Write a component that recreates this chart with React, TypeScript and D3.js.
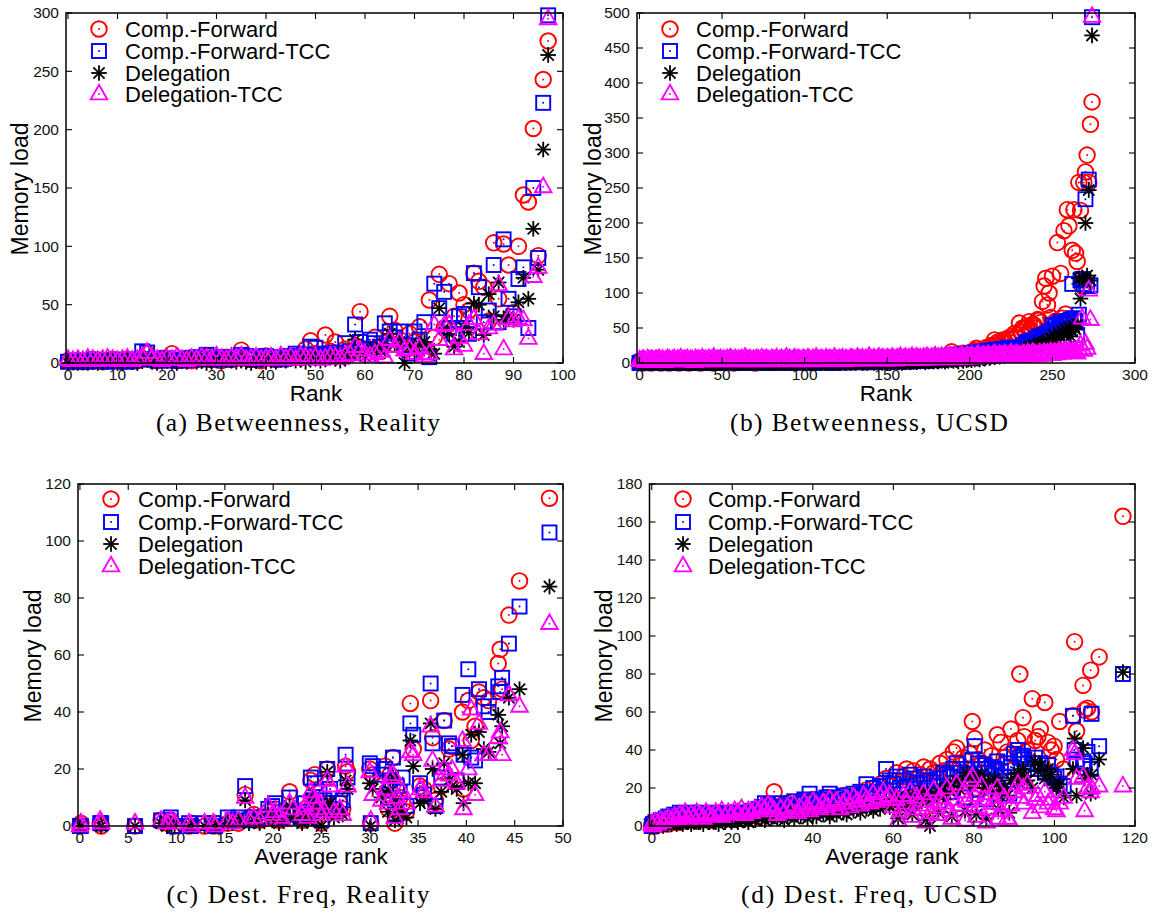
import React from 'react';
import * as d3 from 'd3';

// ---------- Series ----------
const SERIES_NAMES = ['Comp.-Forward', 'Comp.-Forward-TCC', 'Delegation', 'Delegation-TCC'];
const SERIES_COLORS = ['#ff0000', '#0000ff', '#000000', '#ff00ff'];
const SERIES_SHAPES = ['circle', 'square', 'star', 'triangle'];

// ---------- (a) Betweenness, Reality : x = rank (array index) ----------
const A_CF = [2,1,2,1,2,3,2,1,2,3, 2,1,3,2,2,4,8,3,2,4, 3,8,2,3,4,2,3,5,6,3, 4,2,5,3,4,11,4,3,5,2, 6,4,3,5,4,6,5,7,12,19, 8,6,24,10,18,7,12,9,
  15,44,12,10,22,14,17,40,28,20, 12,25,18,31,10,54,22,76,30,68, 40,60,50,45,77,70,65,36,103,55, 102,84,43,100,144,138,201,92,243,276];
const A_CFT = [1,2,1,2,1,3,2,2,1,2, 3,2,1,2,3,10,9,3,2,3, 4,2,3,2,4,3,5,4,7,3, 4,5,3,4,5,7,6,4,3,5, 6,4,5,3,4,6,8,5,7,14, 13,6,8,7,9,6,17,10,
  33,18,12,20,17,14,34,27,22,27, 15,8,27,20,35,5,68,47,61,30, 25,40,42,25,77,65,35,45,84,35, 106,55,40,72,82,30,150,90,223,298];
const A_D = [0,1,0,1,0,1,0,1,2,1, 0,1,2,1,0,2,3,1,0,1, 2,1,0,2,1,3,1,2,0,1, 2,1,3,2,1,2,1,0,2,3, 1,2,1,3,2,4,2,3,1,5, 4,2,3,6,4,2,5,8,
  20,10,6,12,8,14,10,25,16,18, 0,14,10,16,18,12,8,47,30,25, 14,18,30,26,51,50,24,59,40,69, 37,40,37,52,73,55,115,80,183,264];
const A_DT = [3,2,3,2,4,3,2,3,4,3, 2,3,4,2,3,5,9,4,3,2, 4,3,5,3,2,4,3,5,4,3, 6,4,3,5,4,6,3,4,5,3, 4,5,3,6,4,5,3,6,5,4, 5,3,4,6,5,4,6,7,
  14,11,8,6,8,10,5,20,14,18, 11,12,8,13,6,8,33,20,32,33, 12,22,15,33,38,25,8,30,33,67, 12,38,36,38,37,21,74,82,151,295];
const A_XTICKS = [0,10,20,30,40,50,60,70,80,90,100];
const A_YTICKS = [0,50,100,150,200,250,300];

// ---------- (b) Betweenness, UCSD : x = rank (array index) ----------
const B_CF = [1,2,0,1,3,2,1,0,2,1, 3,1,2,0,1,2,3,1,0,2, 1,2,1,3,0,2,1,2,3,1, 0,2,1,3,2,1,2,0,1,3, 2,1,2,3,1,0,2,1,3,2, 1,2,4,1,2,3,1,0,2,1, 3,2,1,2,4,1,3,2,1,2, 0,3,1,2,2,4,1,3,2,1, 2,3,1,4,2,1,3,2,4,1, 2,3,5,2,1,3,2,4,1,3, 2,4,3,1,2,5,3,2,4,1, 3,2,4,3,5,1,2,4,3,2, 4,3,2,5,3,1,4,2,3,5, 2,4,3,6,2,3,5,4,2,3, 5,4,3,6,2,4,3,5,4,3, 6,4,5,3,7,4,5,3,6,4, 5,7,4,6,3,5,8,4,6,5, 7,5,6,9,4,6,8,5,7,6,
  6,5,8,7,9,6,10,8,11,16, 9,8,12,10,13,9,14,11,12,13, 15,12,16,18,21,14,17,13,19,16, 22,18,20,25,23,33,26,30,27,24, 33,31,28,35,30,38,34,42,36,40,
  57,45,50,48,42,53,59,47,55,54, 50,62,61,58,88,110,121,83,100,65, 124,56,60,172,52,128,64,189,70,219, 196,58,161,219,157,145,258,218,110,258, 273,297,258,341,373];
const B_CFT = [0,1,2,1,0,2,1,3,1,0, 2,1,0,1,2,3,1,0,2,1, 1,0,2,1,3,1,2,0,1,2, 1,3,0,2,1,2,1,0,3,1, 2,0,1,2,1,3,2,0,1,2, 1,2,3,0,1,2,1,4,2,1, 0,2,1,3,2,1,0,2,3,1, 2,1,4,2,0,1,3,2,1,2, 3,1,2,0,2,4,1,2,3,1, 2,0,3,1,2,4,2,1,3,2, 1,3,2,4,1,2,0,3,2,4, 1,2,3,1,4,2,3,0,2,3, 4,1,3,2,5,2,1,3,4,2, 3,5,2,1,4,3,2,5,3,1, 4,2,5,3,2,4,6,3,2,5, 3,4,2,6,4,3,5,2,4,6, 3,5,4,2,6,5,3,7,4,5, 6,4,7,5,3,6,8,4,5,7,
  6,8,5,9,7,6,10,8,7,11, 9,8,12,7,10,11,9,13,8,12, 10,14,11,9,15,12,10,16,13,11, 17,14,12,18,15,13,19,16,14,20, 17,15,18,22,16,19,21,18,20,22,
  21,20,25,22,28,30,26,32,24,30, 35,28,38,32,38,40,36,42,45,38, 54,48,52,45,56,59,50,55,48,60, 58,62,113,64,60,40,69,118,120,113, 234,110,262,111,494];
const B_D = [0,0,1,0,1,0,0,1,0,0, 1,0,0,1,0,1,0,0,1,0, 0,1,0,0,1,0,1,0,0,1, 0,0,1,0,0,1,0,1,0,0, 1,0,0,1,0,0,1,0,1,0, 0,1,0,0,2,0,1,0,0,1, 0,0,1,0,1,0,0,2,0,1, 0,1,0,0,1,0,2,0,1,0, 1,0,0,2,0,1,0,1,0,0, 2,0,1,0,1,0,0,2,1,0, 0,1,2,0,1,0,1,0,2,1, 0,2,0,1,0,2,1,0,1,2, 0,1,0,2,1,0,3,1,0,2, 1,0,2,1,3,0,1,2,0,3, 1,2,0,3,1,2,1,0,3,2, 1,3,0,2,1,4,2,1,3,0, 2,1,4,2,1,3,2,4,1,3, 2,4,3,1,5,2,3,4,2,5,
  3,2,4,3,5,2,4,3,6,4, 3,5,4,2,6,5,3,7,4,5, 6,4,7,5,8,6,5,9,7,6, 8,10,7,9,11,8,10,12,9,11, 13,10,12,14,11,15,13,12,16,14,
  15,12,18,14,20,16,22,18,20,25, 22,26,24,28,25,30,26,32,28,35, 30,40,36,33,42,38,45,40,48,44, 50,38,45,52,48,55,121,92,122,118, 200,125,247,118,468];
const B_DT = [4,3,5,4,2,6,3,5,4,3, 5,4,6,3,5,2,4,6,5,3, 4,6,3,5,4,7,3,5,4,6, 3,5,4,2,6,4,5,3,7,4, 5,3,6,4,5,8,3,5,4,6, 4,5,3,6,4,7,5,3,6,4, 5,4,6,3,8,5,4,6,3,5, 4,6,5,3,7,4,5,6,4,3, 6,5,4,7,3,5,6,4,5,8, 4,6,3,5,7,4,6,5,3,6, 5,4,7,5,3,6,4,8,5,4, 6,5,3,7,4,6,5,4,8,5, 4,6,5,7,3,6,4,5,7,6, 5,4,8,6,5,7,4,6,5,9, 6,5,7,4,6,8,5,7,6,4, 7,6,5,8,6,4,7,6,9,5, 6,8,5,7,6,9,5,7,8,6, 7,5,8,6,9,7,6,8,7,10,
  6,8,7,9,6,8,10,7,9,8, 7,10,8,6,9,11,8,7,10,9, 8,11,9,7,10,12,9,8,11,10, 9,12,10,8,11,13,10,9,12,11, 10,13,11,9,12,14,11,10,13,12,
  11,9,13,12,10,14,12,11,15,13, 12,10,14,13,11,15,12,14,13,16, 12,15,14,13,17,15,14,16,18,15, 17,16,15,18,16,14,20,26,64,18, 28,21,104,62,495];
const B_XTICKS = [0,50,100,150,200,250,300];
const B_YTICKS = [0,50,100,150,200,250,300,350,400,450,500];

// ---------- (c) Dest. Freq, Reality : x = average rank ----------
const C_X = [0.0,0.1,2.1,2.2,5.7, 8.4,9.0,9.4,9.8,11.3, 11.5,12.9,13.8,14.0,15.3, 15.8,16.4,17.1,17.5,18.0, 18.6,19.5,19.9,20.2,20.6, 21.0,21.7,22.1,23.0,23.3, 23.6,23.9,24.1,24.3,24.5, 24.8,25.0,25.3,25.6,25.9, 26.3,26.9,27.2,27.5,27.7, 30.0,30.1,30.3,31.2,31.6, 31.9,32.1,32.4,32.6,32.8, 33.1,33.4,33.8,34.2,34.5, 35.2,35.6,36.3,36.5,36.8, 37.4,37.7,38.2,38.5,39.0, 39.6,39.7,40.2,40.5,40.9, 41.3,41.8,42.3,43.3,43.5, 43.7,44.4,45.5,48.6];
const C_CF = [0,1,1,0,0, 2,1,2,0,0, 1,0,0,1,1, 2,1,11,3,4, 2,5,3,6,2, 4,12,5,2,6, 4,16,8,18,3, 10,1,7,20,12, 5,8,6,21,19, 20,1,18,14,21, 6,18,24,1,13, 10,8,5,43,27, 14,13,44,31,9, 14,37,27,28,16, 40,13,44,30,35, 47,45,44,57,62, 48,74,86,115];
const C_CFT = [0,0,1,1,0, 2,2,3,0,1, 0,1,1,0,3, 2,3,14,2,3, 3,6,7,8,5, 3,10,4,3,8, 5,17,9,15,7, 12,2,9,20,13, 6,8,9,25,17, 22,1,21,18,20, 10,16,24,4,14, 12,17,7,36,32, 15,11,50,29,7, 17,37,29,28,16, 46,25,55,24,23, 48,42,40,49,47, 52,64,77,103];
const C_D = [0,0,1,0,0, 1,0,1,0,0, 0,0,0,0,1, 1,2,9,1,2, 1,4,2,3,1, 2,7,3,1,4, 2,10,5,9,2, 6,0,5,19,8, 3,5,4,16,13, 15,0,13,10,12, 5,12,17,2,9, 6,4,3,30,21, 8,9,36,20,6, 12,22,16,14,13, 25,8,15,32,15, 33,27,26,39,29, 35,45,48,84];
const C_DT = [0,1,2,1,1, 2,1,2,1,1, 0,1,1,0,2, 1,2,10,2,3, 2,7,4,5,3, 2,8,6,4,7, 3,12,10,8,6, 8,4,5,16,14, 5,6,4,21,14, 19,2,11,9,13, 8,17,18,3,10, 6,12,8,26,25, 13,12,35,23,7, 16,20,18,20,15, 30,6,20,41,11, 36,25,25,31,33, 25,46,42,71];
const C_XTICKS = [0,5,10,15,20,25,30,35,40,45,50];
const C_YTICKS = [0,20,40,60,80,100,120];

// ---------- (d) Dest. Freq, UCSD : x = average rank ----------
const D_X = [0.0,0.3,0.9,1.5,2.2,2.8,3.5,4.1,4.9,5.6, 6.2,7.0,7.7,8.3,9.0,9.8,10.5,11.2,12.0,12.8, 13.5,14.3,15.1,15.9,16.6,17.4,18.2,19.0,19.8,20.6, 21.4,22.3,23.1,24.0,24.8,25.7,26.5,27.3,28.1,28.9, 29.7,
  30.4,31.2,32.0,32.9,33.7,34.5,35.4,36.2,37.0,37.9, 38.7,39.2,40.1,40.9,41.8,42.6,43.4,44.2,45.1,45.9, 46.8,47.6,48.4,49.3,50.1,51.0,51.8,52.6,53.3,54.2, 55.0,55.9,56.7,57.5,58.2,59.1,
  60.0,60.8,61.7,62.5,63.3,64.2,65.0,65.8,66.7,67.5, 68.3,69.1,70.0,70.8,71.6,72.4,73.3,74.1,74.9,75.7, 76.6,77.4,78.2,79.0,79.6,80.2,81.1,81.9,82.7,83.6, 84.4,85.2,85.8,86.7,87.5,88.3,89.2,
  90.0,90.9,91.4,92.2,92.5,93.3,94.5,95.2,95.9,96.5, 97.6,98.4,99.2,99.9,100.5,101.3,102.3,104.6,105.0,105.5, 107.1,107.5,108.2,109.0,109.2,111.1,117.0,
  61.2,64.7,68.0,71.2,74.5,77.8,80.6,83.1,86.0,88.8];
const D_CF = [0,1,0,1,2,1,2,1,3,2, 3,2,4,3,5,3,4,6,3,5, 4,6,3,5,4,6,5,4,7,5, 6,4,7,5,6,8,5,7,9,11, 10,
  18,8,10,7,12,9,8,11,13,9, 12,10,14,11,9,13,15,12,14,10, 13,16,12,15,11,14,17,13,19,15, 20,16,22,18,25,21,
  24,28,22,26,30,23,29,25,27,31, 24,30,28,26,33,29,35,30,39,41, 32,36,34,38,55,46,35,33,40,31, 37,30,48,44,36,39,51,
  37,45,80,57,47,40,67,45,47,51, 65,44,40,42,35,55,30,58,97,50, 74,61,62,82,60,89,163,
  12,14,10,16,18,15,20,22,17,24];
const D_CFT = [0,1,2,1,3,2,4,5,3,6, 5,7,4,6,5,7,6,5,7,6, 5,6,7,5,6,4,7,6,5,7, 6,5,7,6,8,7,9,10,12,11, 9,
  10,9,12,8,11,10,13,9,12,14, 11,17,13,10,14,12,15,17,13,15, 12,16,14,13,17,15,18,16,22,17, 20,18,21,19,30,24,
  22,26,20,24,21,27,25,23,22,26, 20,24,23,21,25,28,27,26,30,33, 28,25,30,27,35,42,33,30,32,28, 31,30,34,29,26,33,31,
  38,40,36,37,35,30,33,36,30,33, 28,32,27,25,26,22,21,58,40,35, 34,33,39,30,59,42,80,
  14,12,16,13,18,15,19,14,20,17];
const D_D = [0,0,1,0,1,0,1,2,1,2, 1,2,1,3,2,1,2,3,2,1, 3,2,3,2,1,3,2,4,2,3, 2,4,3,2,4,3,5,4,3,5, 4,
  5,4,6,3,5,7,4,6,5,8, 4,7,6,5,8,6,7,5,8,6, 9,7,6,10,8,9,7,11,9,10, 8,12,9,11,13,10,
  12,15,10,14,11,13,16,12,15,18, 13,0,17,14,19,16,20,18,22,24, 19,23,28,25,21,26,24,27,20,23, 19,25,22,18,20,16,24,
  25,28,22,30,26,24,20,34,29,32, 25,30,27,22,20,22,15,30,46,16, 41,25,27,17,27,35,81,
  4,6,3,7,5,8,6,4,9,7];
const D_DT = [1,0,2,1,3,2,3,4,3,5, 4,6,5,7,4,6,5,7,6,4, 7,6,5,7,6,8,5,7,6,8, 7,9,6,8,7,9,8,10,9,11, 10,
  8,6,9,7,10,8,11,7,9,12, 10,8,13,11,9,12,10,14,11,13, 9,12,14,10,15,13,11,16,14,12, 17,13,15,18,14,16,
  10,14,8,16,12,18,9,15,11,17, 13,7,19,10,15,12,20,8,14,22, 11,18,13,24,26,16,10,21,14,9, 17,12,20,8,15,4,11,
  18,22,15,20,12,22,7,14,16,10, 18,12,14,9,8,12,15,40,38,25, 26,8,20,18,20,21,21,
  3,5,2,6,4,3,5,2,4,3];
const D_XTICKS = [0,20,40,60,80,100,120];
const D_YTICKS = [0,20,40,60,80,100,120,140,160,180];

// ---------- layout ----------
type Panel = {
  left: number; right: number; top: number; bottom: number;
  xDomain: [number, number]; yDomain: [number, number];
  xTicks: number[]; yTicks: number[];
  xs: number[]; ys: number[][];
  legMarkX: number; legTextX: number; legY: number[];
  yLabX: number; yLabY: number; xLab: string; xLabX: number; xLabY: number;
  caption: string; capX: number; capY: number; capW: number;
};

const rankIndex = (arr: number[]) => arr.map((_, i) => i);

const PANELS: Panel[] = [
  { left: 66, right: 563, top: 13, bottom: 363, xDomain: [-0.4, 100], yDomain: [0, 300],
    xTicks: A_XTICKS, yTicks: A_YTICKS, xs: rankIndex(A_CF), ys: [A_CF, A_CFT, A_D, A_DT],
    legMarkX: 99, legTextX: 125, legY: [29, 51, 73, 94],
    yLabX: 20, yLabY: 189, xLab: 'Rank', xLabX: 316, xLabY: 401,
    caption: '(a) Betweenness, Reality', capX: 298, capY: 431, capW: 284 },
  { left: 637, right: 1135, top: 13, bottom: 363, xDomain: [-1.5, 300], yDomain: [0, 500],
    xTicks: B_XTICKS, yTicks: B_YTICKS, xs: rankIndex(B_CF), ys: [B_CF, B_CFT, B_D, B_DT],
    legMarkX: 670, legTextX: 696, legY: [29, 51, 73, 94],
    yLabX: 593, yLabY: 189, xLab: 'Rank', xLabX: 886, xLabY: 401,
    caption: '(b) Betweenness, UCSD', capX: 869, capY: 431, capW: 278 },
  { left: 78, right: 563, top: 484, bottom: 826, xDomain: [-0.2, 50], yDomain: [0, 120],
    xTicks: C_XTICKS, yTicks: C_YTICKS, xs: C_X, ys: [C_CF, C_CFT, C_D, C_DT],
    legMarkX: 111, legTextX: 138, legY: [499, 522, 544, 566],
    yLabX: 33, yLabY: 656, xLab: 'Average rank', xLabX: 321, xLabY: 864,
    caption: '(c) Dest. Freq, Reality', capX: 298, capY: 903, capW: 263 },
  { left: 649.5, right: 1135, top: 484, bottom: 826, xDomain: [-0.55, 120], yDomain: [0, 180],
    xTicks: D_XTICKS, yTicks: D_YTICKS, xs: D_X, ys: [D_CF, D_CFT, D_D, D_DT],
    legMarkX: 683, legTextX: 708, legY: [499, 522, 544, 566],
    yLabX: 604, yLabY: 656, xLab: 'Average rank', xLabX: 892, xLabY: 864,
    caption: '(d) Dest. Freq, UCSD', capX: 869, capY: 903, capW: 256 },
];

const SANS = 'Liberation Sans, Arial, Helvetica, sans-serif';
const SERIF = 'Liberation Serif, Times New Roman, serif';

function Marker({ shape, color, x, y }: { shape: string; color: string; x: number; y: number }) {
  const sw = 1.9;
  const dot = <circle r={1} fill={color} />;
  if (shape === 'circle') {
    return (
      <g transform={`translate(${x},${y})`}>
        <circle r={7.8} fill="none" stroke={color} strokeWidth={sw} />
        {dot}
      </g>
    );
  }
  if (shape === 'square') {
    return (
      <g transform={`translate(${x},${y})`}>
        <rect x={-7} y={-7} width={14} height={14} fill="none" stroke={color} strokeWidth={sw} />
        {dot}
      </g>
    );
  }
  if (shape === 'star') {
    return (
      <g transform={`translate(${x},${y})`} stroke={color} strokeWidth={1.8}>
        <line x1={-7.8} y1={0} x2={7.8} y2={0} />
        <line x1={0} y1={-7.8} x2={0} y2={7.8} />
        <line x1={-5.6} y1={-5.6} x2={5.6} y2={5.6} />
        <line x1={-5.6} y1={5.6} x2={5.6} y2={-5.6} />
      </g>
    );
  }
  return (
    <g transform={`translate(${x},${y})`}>
      <path d="M0,-9.2L8.3,5.4L-8.3,5.4Z" fill="none" stroke={color} strokeWidth={sw} strokeLinejoin="miter" />
      {dot}
    </g>
  );
}

function PanelView({ p }: { p: Panel }) {
  const x = d3.scaleLinear().domain(p.xDomain).range([p.left, p.right]);
  const y = d3.scaleLinear().domain(p.yDomain).range([p.bottom, p.top]);
  const tl = 6;
  return (
    <g>
      {p.ys.map((vals, si) => (
        <g key={si}>
          {vals.map((v, i) => (
            <Marker key={i} shape={SERIES_SHAPES[si]} color={SERIES_COLORS[si]} x={x(p.xs[i])} y={y(v)} />
          ))}
        </g>
      ))}
      <rect x={p.left} y={p.top} width={p.right - p.left} height={p.bottom - p.top} fill="none" stroke="#000" strokeWidth={1.5} />
      {p.xTicks.map((t) => (
        <g key={'xt' + t}>
          <line x1={x(t)} x2={x(t)} y1={p.bottom} y2={p.bottom - tl} stroke="#000" strokeWidth={1.1} />
          <line x1={x(t)} x2={x(t)} y1={p.top} y2={p.top + tl} stroke="#000" strokeWidth={1.1} />
          <text x={x(t)} y={p.bottom + 16.5} textAnchor="middle" fontFamily={SANS} fontSize={15.5} fill="#111">{t}</text>
        </g>
      ))}
      {p.yTicks.map((t) => (
        <g key={'yt' + t}>
          <line x1={p.left} x2={p.left + tl} y1={y(t)} y2={y(t)} stroke="#000" strokeWidth={1.1} />
          <line x1={p.right} x2={p.right - tl} y1={y(t)} y2={y(t)} stroke="#000" strokeWidth={1.1} />
          <text x={p.left - 7} y={y(t)} dy="0.35em" textAnchor="end" fontFamily={SANS} fontSize={15.5} fill="#111">{t}</text>
        </g>
      ))}
      <text transform={`translate(${p.yLabX},${p.yLabY}) rotate(-90)`} textAnchor="middle" dy="0.35em" fontFamily={SANS} fontSize={23} fill="#000">Memory load</text>
      <text x={p.xLabX} y={p.xLabY} textAnchor="middle" fontFamily={SANS} fontSize={22.5} fill="#000">{p.xLab}</text>
      {SERIES_NAMES.map((name, si) => (
        <g key={name}>
          <Marker shape={SERIES_SHAPES[si]} color={SERIES_COLORS[si]} x={p.legMarkX} y={p.legY[si]} />
          <text x={p.legTextX} y={p.legY[si]} dy="0.36em" fontFamily={SANS} fontSize={22} fill="#000">{name}</text>
        </g>
      ))}
      <text x={p.capX} y={p.capY} textAnchor="middle" fontFamily={SERIF} fontSize={25.5} fill="#000"
        textLength={p.capW} lengthAdjust="spacing">{p.caption}</text>
    </g>
  );
}

export default function App() {
  return (
    <svg width={1158} height={916} viewBox="0 0 1158 916"
      style={{ position: 'absolute', left: 0, top: 0, background: '#fff' }}>
      <rect x={0} y={0} width={1158} height={916} fill="#fff" />
      {PANELS.map((p, i) => <PanelView key={i} p={p} />)}
    </svg>
  );
}
